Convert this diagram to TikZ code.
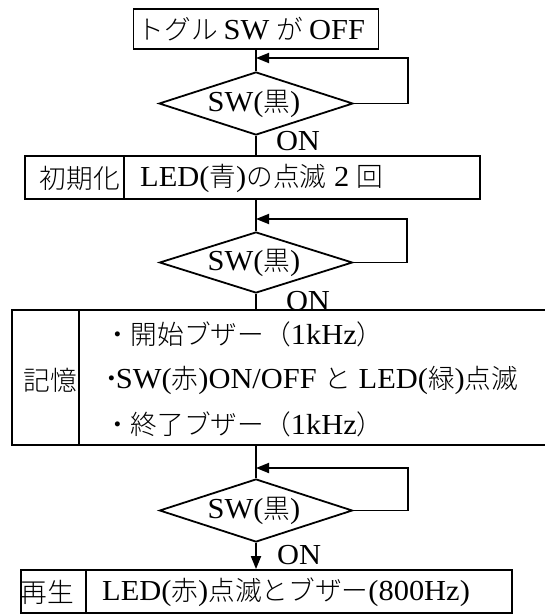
\documentclass[tikz,border=0pt]{standalone}
\usepackage{fontspec}
\setmainfont[FakeStretch=1.05]{Liberation Serif}
\newfontfamily\jp[Scale=0.92]{Noto Sans CJK JP Light}
\usetikzlibrary{shapes.geometric,arrows.meta}
\tikzset{
  box/.style={draw, line width=1.8pt, inner sep=0pt},
  dia/.style={diamond, draw, line width=1.8pt, inner sep=0pt, aspect=3},
  txt/.style={inner sep=0pt, font=\fontsize{29}{34}\selectfont},
  conn/.style={line width=1.8pt},
  arr/.style={line width=1.8pt, -{Triangle[length=13pt,width=10pt]}},
}
\begin{document}
\begin{tikzpicture}[x=1pt,y=-1pt]
\useasboundingbox (0,0) rectangle (545,615);
% boxes
\node[box, minimum width=245pt, minimum height=40pt] (start) at (256,29) {};
\node[box, minimum width=455pt, minimum height=43pt] (init) at (252.5,177.5) {};
\node[box, minimum width=560pt, minimum height=135pt] (mem) at (292,377.5) {};
\node[box, minimum width=491pt, minimum height=43pt] (play) at (266.5,591.5) {};
\draw[conn] ([xshift=100pt]init.north west) -- ([xshift=100pt]init.south west);
\draw[conn] ([xshift=68pt]mem.north west) -- ([xshift=68pt]mem.south west);
\draw[conn] ([xshift=66pt]play.north west) -- ([xshift=66pt]play.south west);
% diamonds
\node[dia, minimum width=194pt, minimum height=63pt] (d1) at (256,103.5) {};
\node[dia, minimum width=193pt, minimum height=61pt] (d2) at (256,262.5) {};
\node[dia, minimum width=193pt, minimum height=63pt] (d3) at (256,510.5) {};
% texts
\node[txt] (t0) at (251.5,29) {{\jp トグル}\kern-2pt{} SW {\jp が}\kern-2pt{} OFF};
\node[txt] (t1) at (254,104) {SW({\jp 黒})};
\node[txt] (t2) at (254,263) {SW({\jp 黒})};
\node[txt] (t3) at (254,511) {SW({\jp 黒})};
\node[txt] (ti1) at (80,178) {\jp 初期化};
\node[txt, anchor=west] (ti2) at (140,178) {LED({\jp 青}){\jp の点滅} 2 {\jp 回}};
\node[txt] (tm0) at (50,380) {\jp 記憶};
\node[txt, anchor=west] (tm1) at (104,334) {{\jp ・開始ブザー（}1kHz{\jp ）}};
\node[txt, anchor=west] (tm2) at (98,380) {{\jp ・}\kern-9pt SW({\jp 赤})ON/OFF {\jp と} LED({\jp 緑}){\jp 点滅}};
\node[txt, anchor=west] (tm3) at (104,424) {{\jp ・終了ブザー（}1kHz{\jp ）}};
\node[txt] (tp1) at (47,592) {\jp 再生};
\node[txt, anchor=west] (tp2) at (102,592) {LED({\jp 赤}){\jp 点滅とブザー}(800Hz)};
\node[txt] (on1) at (298,141) {ON};
\node[txt] (on2) at (308,301) {ON};
\node[txt] (on3) at (299,555) {ON};
% connectors
\coordinate (m1) at (256,58);   \coordinate (r1) at (408,58);
\coordinate (m2) at (256,219);  \coordinate (r2) at (407,219);
\coordinate (m3) at (256,468);  \coordinate (r3) at (408,468);
\draw[conn] (start.south) -- (d1.north);
\draw[arr] (d1.east) -| (r1) -- (m1);
\draw[conn] (d1.south) -- (d1.south |- init.north);
\draw[conn] (d2.north |- init.south) -- (d2.north);
\draw[arr] (d2.east) -| (r2) -- (m2);
\draw[conn] (d2.south) -- (d2.south |- mem.north);
\draw[conn] (d3.north |- mem.south) -- (d3.north);
\draw[arr] (d3.east) -| (r3) -- (m3);
\draw[arr] (d3.south) -- (d3.south |- play.north);
\end{tikzpicture}
\end{document}
